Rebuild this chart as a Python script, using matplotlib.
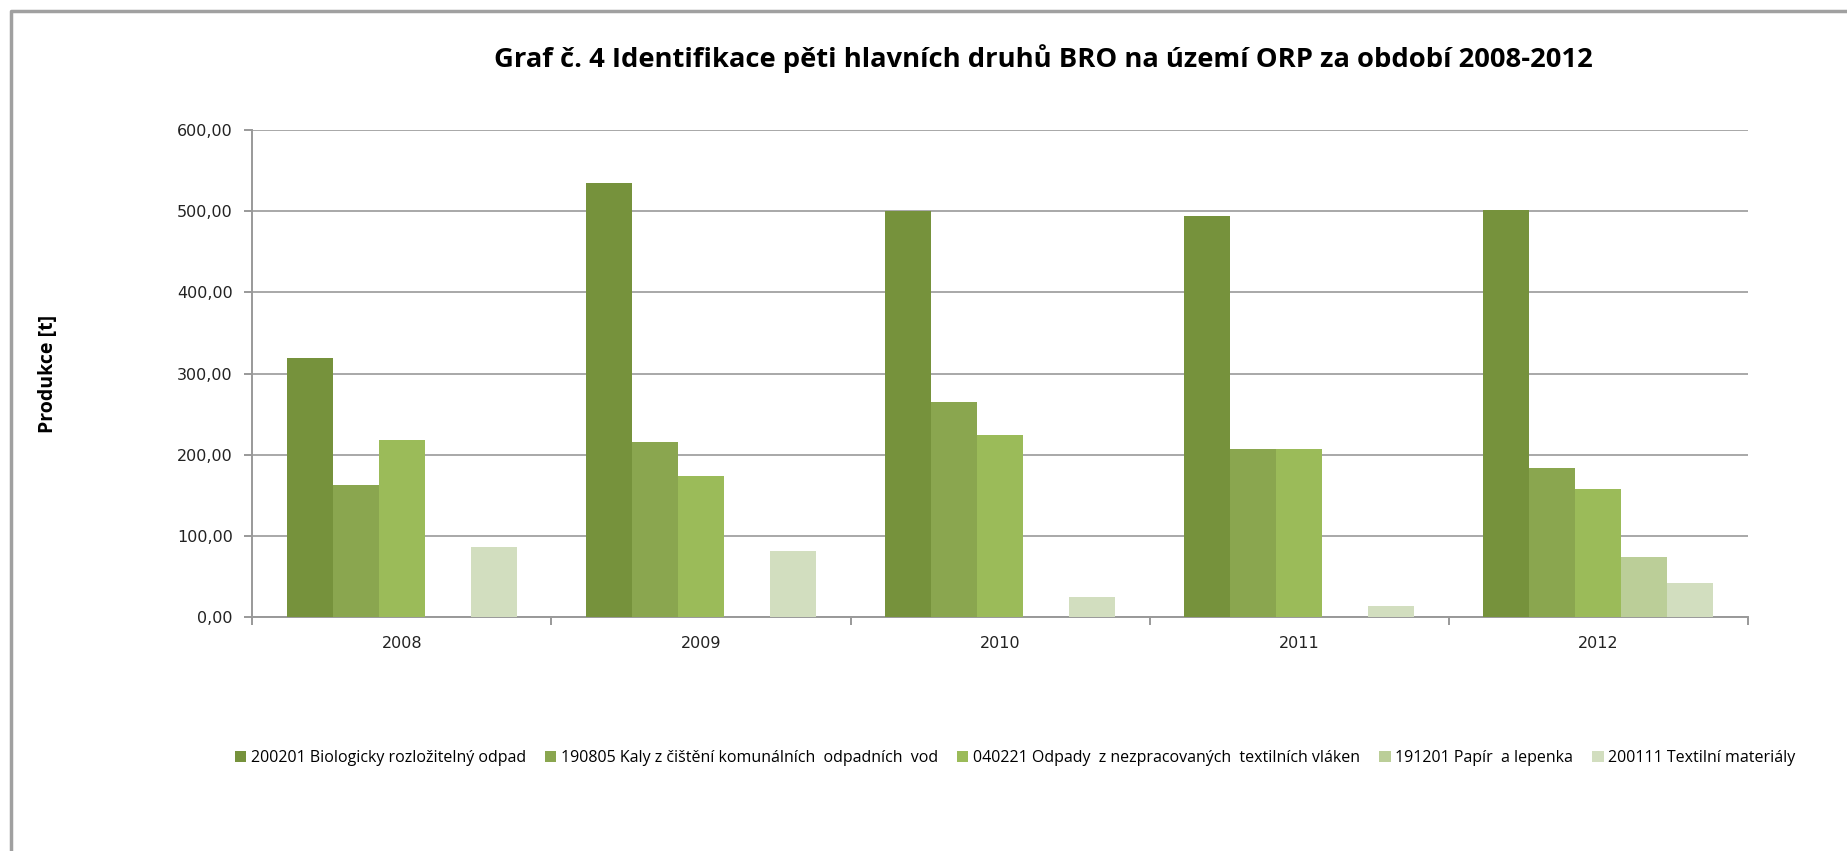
import numpy as np
import matplotlib.pyplot as plt
from matplotlib.lines import Line2D

years = ['2008', '2009', '2010', '2011', '2012']
labels = [
    '200201 Biologicky rozložitelný odpad',
    '190805 Kaly z čištění komunálních  odpadních  vod',
    '040221 Odpady  z nezpracovaných  textilních vláken',
    '191201 Papír  a lepenka',
    '200111 Textilní materiály',
]
bio = [318.5, 535.0, 500.0, 494.5, 502.0]
kaly = [163.0, 215.0, 265.0, 206.5, 183.0]
textil_vlakna = [218.5, 174.0, 224.0, 207.5, 158.0]
papir = [0, 0, 0, 0, 73.5]
textil_mat = [86.5, 81.0, 24.0, 13.0, 41.5]
colors = ['#76923C', '#8AA64F', '#9BBB59', '#BBCE98', '#D2DEBF']

series = [bio, kaly, textil_vlakna, papir, textil_mat]

fig = plt.figure(figsize=(18.47, 8.51), dpi=100)
ax = fig.add_axes([0.1366, 0.275, 0.8098, 0.5722])

x = np.arange(len(years))
w = 1 / 6.5
for i, (vals, lab, c) in enumerate(zip(series, labels, colors)):
    ax.bar(x + (i - 2) * w, vals, w, color=c, label=lab, zorder=3)

ax.set_xlim(-0.5, 4.5)
ax.set_ylim(0, 600)
ax.set_yticks(range(0, 601, 100))
ax.set_yticklabels(['%d,00' % v for v in range(0, 601, 100)], fontsize=11.5, color='#222222')
ax.set_xticks(x)
ax.set_xticklabels(years, fontsize=11.5, color='#222222')
ax.set_xticks(np.arange(-0.5, 5, 1), minor=True)
ax.tick_params(axis='x', which='major', length=0, pad=14)
ax.tick_params(axis='x', which='minor', length=6, color='#888888', width=1.2)
ax.tick_params(axis='y', length=6, color='#888888', width=1.2, pad=8)
ax.grid(axis='y', color='#999999', linewidth=1.2, zorder=0)
for s in ['top', 'right']:
    ax.spines[s].set_visible(False)
for s in ['left', 'bottom']:
    ax.spines[s].set_color('#999999')
    ax.spines[s].set_linewidth(1.4)

ax.set_ylabel('Produkce [t]', fontsize=14, fontweight='bold', family='Open Sans', labelpad=86)

fig.suptitle('Graf č. 4 Identifikace pěti hlavních druhů BRO na území ORP za období 2008-2012',
             x=0.565, y=0.948, fontsize=19.7, fontweight='bold', family='Open Sans')

ax.legend(loc='center', bbox_to_anchor=(0.51, -0.29), ncol=5, frameon=False,
          prop={'family': 'Open Sans', 'size': 11.5}, handlelength=0.7, handleheight=0.7,
          handletextpad=0.3, columnspacing=1.2)

fig.add_artist(Line2D([0.0058, 0.0058, 1.0], [0.0, 0.9865, 0.9865], color='#A0A0A0', linewidth=2.5, transform=fig.transFigure))

fig.savefig('out.png', dpi=100, facecolor='white')
